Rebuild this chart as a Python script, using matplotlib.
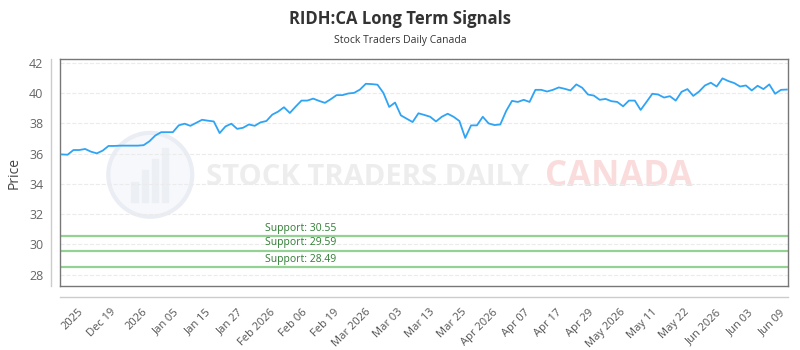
import matplotlib
matplotlib.use('Agg')
import matplotlib.pyplot as plt
from matplotlib.lines import Line2D
from matplotlib.patches import Ellipse, Rectangle
import numpy as np

# closing prices, one per trading day
prices = [
    35.95, 35.93, 36.24, 36.24, 36.31, 36.13, 36.02, 36.2, 36.51, 36.51,
    36.53, 36.53, 36.53, 36.53, 36.56, 36.82, 37.2, 37.42, 37.42, 37.42,
    37.87, 37.98, 37.84, 38.04, 38.24, 38.18, 38.13, 37.36, 37.8, 37.98,
    37.64, 37.71,
    37.93, 37.84, 38.07, 38.16, 38.58, 38.78, 39.07, 38.69, 39.11, 39.51,
    39.51, 39.64, 39.49, 39.36, 39.6, 39.87, 39.87, 39.98, 40.02, 40.24,
    40.62, 40.6, 40.56, 40.02, 39.09, 39.38, 38.53, 38.31, 38.09, 38.67,
    38.56, 38.44,
    38.13, 38.44, 38.64, 38.44, 38.16, 37.04, 37.87, 37.87, 38.44, 38.0,
    37.89, 37.93, 38.82, 39.49, 39.42, 39.56, 39.42, 40.22, 40.22, 40.11,
    40.22, 40.38, 40.29, 40.18, 40.58, 40.36, 39.91, 39.84, 39.56, 39.62,
    39.47,
    39.42, 39.13, 39.51, 39.51, 38.89, 39.42, 39.96, 39.91, 39.71, 39.8,
    39.51, 40.09, 40.27, 39.82, 40.11, 40.51, 40.69, 40.44, 40.98, 40.8,
    40.67, 40.44, 40.51, 40.18, 40.49, 40.27, 40.58, 39.96, 40.22, 40.24,
]

tick_labels = ['2025', 'Dec 19', '2026', 'Jan 05', 'Jan 15', 'Jan 27',
               'Feb 2026', 'Feb 06', 'Feb 19', 'Mar 2026', 'Mar 03', 'Mar 13',
               'Mar 25', 'Apr 2026', 'Apr 07', 'Apr 17', 'Apr 29', 'May 2026',
               'May 11', 'May 22', 'Jun 2026', 'Jun 03', 'Jun 09']

supports = [30.55, 29.59, 28.49]
y_ticks = [28, 30, 32, 34, 36, 38, 40, 42]

plt.rcParams['font.family'] = ['Open Sans', 'DejaVu Sans']

fig = plt.figure(figsize=(8, 3.5), dpi=100)
ax = fig.add_axes([0.075, 0.183, 0.91, 0.648])

x = np.arange(len(prices))

# watermark (axes is about 728 x 227 px)
ax.add_patch(Ellipse((0.124, 0.49), 84 / 728, 84 / 227, transform=ax.transAxes,
                     facecolor='#f6f8fb', edgecolor='#eaedf4', lw=3, zorder=0))
for bx, bh in [(0.098, 0.09), (0.112, 0.14), (0.126, 0.19), (0.14, 0.24)]:
    ax.add_patch(Rectangle((bx, 0.37), 0.009, bh, transform=ax.transAxes,
                           color='#eceff4', zorder=0))
ax.text(0.2, 0.48, 'STOCK TRADERS DAILY', transform=ax.transAxes,
        fontsize=21, fontweight='bold', color='#ededed', va='center',
        ha='left', zorder=0)
ax.text(0.666, 0.48, 'CANADA', transform=ax.transAxes,
        fontsize=25, fontweight='bold', color='#fbdcdc', va='center',
        ha='left', zorder=0)

ax.plot(x, prices, color='#2fa4f5', lw=1.3, zorder=3)

for s in supports:
    ax.axhline(s, color='#94d294', lw=1.6, zorder=2)
    ax.annotate(f'Support: {s:.2f}', xy=(34.7, s), xytext=(0, 1.5),
                textcoords='offset points', color='#2e7d32', fontsize=7.5,
                va='bottom', ha='left', zorder=4)

ax.set_xlim(-0.3, 124.2)
ax.set_ylim(27.25, 42.25)
ax.set_yticks(y_ticks)
ax.grid(axis='y', color='#ebebeb', ls='--', lw=0.8)
ax.set_axisbelow(True)

ax.set_xticks(np.linspace(2.8, 122.8, len(tick_labels)))
ax.set_xticklabels(tick_labels, rotation=45, ha='right', rotation_mode='anchor')
ax.tick_params(axis='x', length=0, pad=15, labelsize=8, labelcolor='#555555')
ax.tick_params(axis='y', length=0, pad=12, labelsize=9, labelcolor='#666666')

for sp in ax.spines.values():
    sp.set_color('#777777')
    sp.set_linewidth(1)

ax.set_ylabel('Price', fontsize=10, color='#444444', labelpad=5)

# detached axis lines
fig.add_artist(Line2D([51 / 800, 51 / 800], [1 - 59 / 350, 1 - 286 / 350],
                      color='#cccccc', lw=1))
fig.add_artist(Line2D([60 / 800, 788 / 800], [1 - 297 / 350, 1 - 297 / 350],
                      color='#cccccc', lw=1))

fig.text(0.5, 0.945, 'RIDH:CA Long Term Signals', ha='center', va='center',
         fontsize=12, fontweight='bold', color='#333333')
fig.text(0.5, 0.883, 'Stock Traders Daily Canada', ha='center', va='center',
         fontsize=7.5, color='#333333')

fig.savefig('out.png', dpi=100)
